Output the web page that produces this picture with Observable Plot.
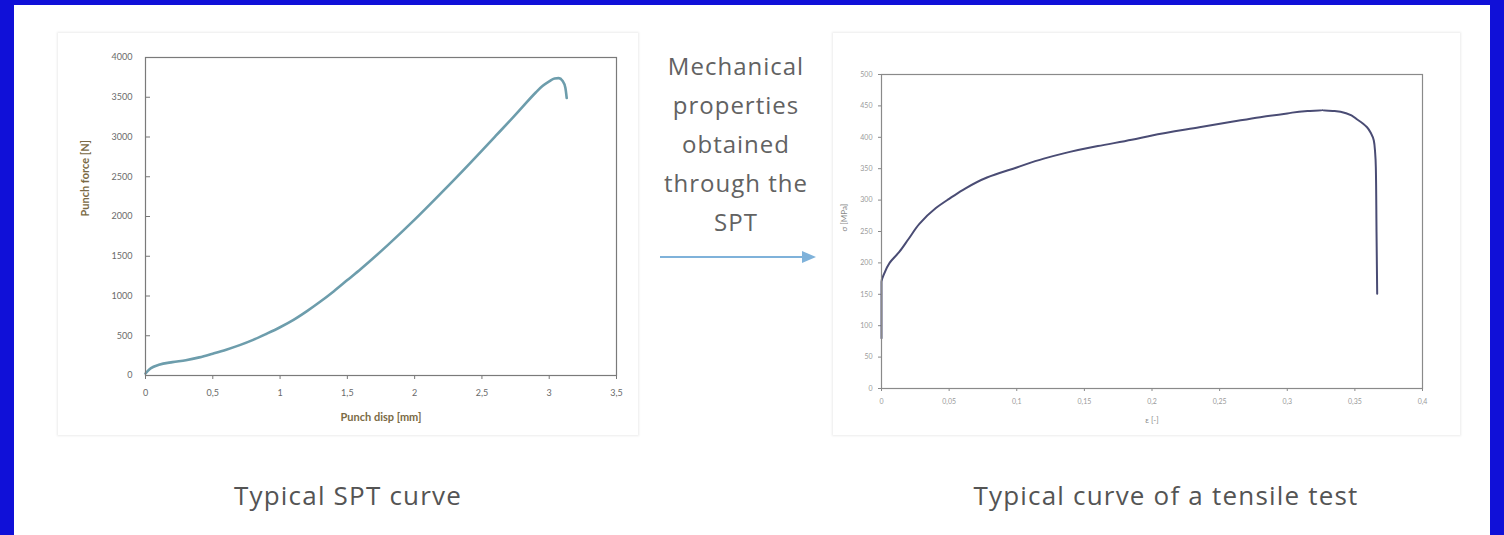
<!DOCTYPE html>
<html>
<head>
<meta charset="utf-8">
<script src="https://cdn.jsdelivr.net/npm/d3@7"></script>
<script src="https://cdn.jsdelivr.net/npm/@observablehq/plot@0.6"></script>
<style>
  html, body { margin: 0; padding: 0; }
  body { width: 1504px; height: 535px; background: #1010d8; position: relative; overflow: hidden; font-family: "Open Sans", Lato, sans-serif; }
  #sheet { position: absolute; left: 14px; top: 5px; width: 1476px; height: 530px; background: #ffffff; }
  .panel { position: absolute; background: #fff; box-shadow: 0 0 2px 1px #ececec; }
  .abs { position: absolute; }
  .caption { position: absolute; text-align: center; color: #545454; font-size: 26px; line-height: 32px; white-space: nowrap; font-weight: 400; letter-spacing: 1.2px; }
  #middle { position: absolute; left: 636px; top: 46px; width: 200px; text-align: center; color: #626262; font-size: 24px; line-height: 39px; letter-spacing: 1px; }
</style>
</head>
<body>
<div id="sheet"></div>
<div class="panel" id="panelL" style="left:58px; top:33px; width:580px; height:402px;"></div>
<div class="panel" id="panelR" style="left:833px; top:33px; width:627px; height:402px;"></div>
<div class="abs" id="plotL" style="left:60px; top:35px;"></div>
<div class="abs" id="plotR" style="left:833px; top:35px;"></div>
<div id="middle"></div>
<svg class="abs" style="left:650px; top:245px;" width="180" height="24">
  <line x1="10" y1="12" x2="155" y2="12" stroke="#7fb2da" stroke-width="2"></line>
  <polygon points="152,6 166,12 152,18" fill="#7fb2da"></polygon>
</svg>
<div class="caption" id="capL" style="left:148px; top:479px; width:400px;"></div>
<div class="caption" id="capR" style="left:966px; top:479px; width:400px;"></div>
<script>
// ---------- data ----------
const sptDisp  = [0, 0.03, 0.06, 0.1, 0.2, 0.3, 0.4, 0.5, 0.6, 0.7, 0.8, 0.9, 1.0, 1.1, 1.2, 1.3, 1.4, 1.5, 1.6, 1.8, 2.0, 2.2, 2.4, 2.5, 2.6, 2.7, 2.8, 2.9, 2.95, 3.0, 3.04, 3.07, 3.1, 3.12, 3.13];
const sptForce = [25, 80, 110, 135, 168, 192, 228, 275, 325, 382, 448, 525, 607, 700, 810, 930, 1060, 1200, 1340, 1640, 1960, 2300, 2650, 2830, 3010, 3190, 3375, 3560, 3640, 3700, 3735, 3740, 3705, 3620, 3490];
const sptXTicks = [0, 0.5, 1, 1.5, 2, 2.5, 3, 3.5];
const sptYTicks = [0, 500, 1000, 1500, 2000, 2500, 3000, 3500, 4000];

const tenStrain = [0, 0, 0.002, 0.006, 0.013, 0.02, 0.028, 0.04, 0.05, 0.06, 0.078, 0.1, 0.12, 0.134, 0.16, 0.185, 0.2, 0.235, 0.26, 0.28, 0.3, 0.315, 0.326, 0.335, 0.344, 0.352, 0.359, 0.362, 0.364, 0.365, 0.3655, 0.366, 0.3665];
const tenStress = [80, 170, 183, 200, 217, 238, 262, 287, 302, 316, 336, 352, 366, 374, 386, 396, 403, 416, 425, 432, 438, 442, 443, 442, 438, 428, 416, 406, 395, 375, 352, 250, 151];
const tenXTicks = [0, 0.05, 0.1, 0.15, 0.2, 0.25, 0.3, 0.35, 0.4];
const tenYTicks = [0, 50, 100, 150, 200, 250, 300, 350, 400, 450, 500];

const sptLabels = {x: "Punch disp [mm]", y: "Punch force [N]"};
const tenLabels = {x: "ε [-]", y: "σ [MPa]"};
const middleLines = ["Mechanical", "properties", "obtained", "through the", "SPT"];
const captions = ["Typical SPT curve", "Typical curve of a tensile test"];

// ---------- helpers ----------
const comma = d => String(d).replace(".", ",");
const plain = d => String(d);
const spt = sptDisp.map((x, i) => ({x, y: sptForce[i]}));
const ten = tenStrain.map((x, i) => ({x, y: tenStress[i]}));

// ---------- left: SPT curve ----------
const left = Plot.plot({
  width: 578, height: 400,
  marginLeft: 85, marginRight: 22, marginTop: 22, marginBottom: 60,
  style: {fontFamily: "Lato, sans-serif", fontSize: "9px", color: "#6a6a6a", background: "transparent", overflow: "visible"},
  x: {domain: [0, 3.5]},
  y: {domain: [0, 4000]},
  marks: [
    Plot.axisX({ticks: sptXTicks, tickFormat: comma, tickSize: 4, tickPadding: 10, label: null, stroke: "#777"}),
    Plot.axisY({ticks: sptYTicks, tickFormat: plain, tickSize: -5, tickPadding: 18, label: null, stroke: "#777"}),
    Plot.line(spt, {x: "x", y: "y", stroke: "#6d9dac", strokeWidth: 2.6, curve: "monotone-x"}),
    Plot.frame({stroke: "#7a7a7a", strokeWidth: 1.2}),
    Plot.text([sptLabels.x], {text: d => d, frameAnchor: "bottom", dy: 45, fill: "#7b6a45", fontWeight: "bold", fontSize: 11}),
    Plot.text([sptLabels.y], {text: d => d, frameAnchor: "left", rotate: -90, dx: -60, fill: "#7b6a45", fontWeight: "bold", fontSize: 11})
  ]
});
document.getElementById("plotL").appendChild(left);

// ---------- right: tensile curve ----------
const right = Plot.plot({
  width: 629, height: 400,
  marginLeft: 48, marginRight: 40, marginTop: 39, marginBottom: 47,
  style: {fontFamily: "Lato, sans-serif", fontSize: "7px", color: "#9a9a9a", background: "transparent", overflow: "visible"},
  x: {domain: [0, 0.4]},
  y: {domain: [0, 500]},
  marks: [
    Plot.axisX({ticks: tenXTicks, tickFormat: comma, tickSize: 3, tickPadding: 8, label: null, stroke: "#888"}),
    Plot.axisY({ticks: tenYTicks, tickFormat: plain, tickSize: 3, tickPadding: 6, label: null, stroke: "#888"}),
    Plot.line(ten, {x: "x", y: "y", stroke: "#4a4c74", strokeWidth: 2, curve: "monotone-y"}),
    Plot.frame({stroke: "#8a8a8a", strokeWidth: 1.2}),
    Plot.text([tenLabels.x], {text: d => d, frameAnchor: "bottom", dy: 34, fill: "#888", fontSize: 8}),
    Plot.text([tenLabels.y], {text: d => d, frameAnchor: "left", rotate: -90, dx: -37, fill: "#888", fontSize: 8})
  ]
});
document.getElementById("plotR").appendChild(right);

// ---------- texts ----------
document.getElementById("middle").innerHTML = middleLines.map(s => `<div>${s}</div>`).join("");
document.getElementById("capL").textContent = captions[0];
document.getElementById("capR").textContent = captions[1];
</script>
</body>
</html>
